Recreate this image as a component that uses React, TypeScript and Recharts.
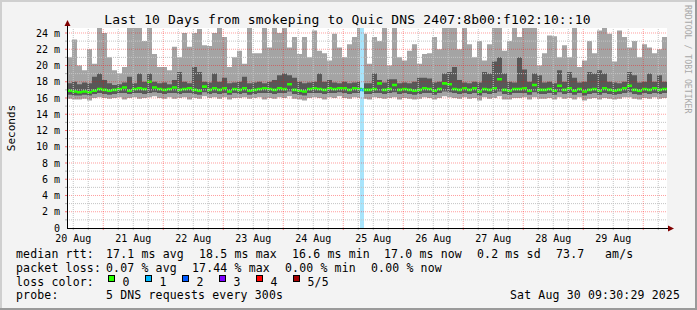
import React from 'react';
import { ComposedChart, Area, XAxis, YAxis, ReferenceLine, ReferenceArea, CartesianGrid } from 'recharts';

// ---- data (milliseconds), one bin = 2 hours, start = 20 Aug 09:30 ----
const binHours = 2;
const maxRtt = [
  21.0, 23.2, 20.0, 19.4, 22.0, 20.2, 24.6, 24.0, 21.0, 19.4,
  19.0, 19.8, 24.6, 24.6, 24.6, 23.0, 24.6, 21.4, 19.8, 19.8,
  19.4, 22.3, 21.0, 24.0, 22.3, 24.0, 24.5, 22.5, 22.4, 24.0,
  24.6, 23.5, 19.8, 21.0, 21.8, 20.2, 24.6, 21.5, 21.5, 24.6,
  22.2, 24.6, 24.0, 24.6, 22.2, 23.5, 21.4, 23.5, 21.0, 24.3,
  21.8, 21.5, 20.6, 23.9, 22.2, 21.0, 22.6, 23.5, 24.6, 23.9,
  20.2, 23.5, 23.0, 24.6, 20.0, 24.6, 21.0, 20.6, 21.8, 22.6,
  20.2, 21.4, 21.5, 23.5, 22.0, 24.6, 24.6, 24.6, 22.0, 24.6,
  22.6, 21.0, 23.0, 20.6, 22.6, 24.6, 24.6, 21.8, 23.0, 24.6,
  23.5, 24.6, 24.6, 24.6, 20.0, 21.5, 23.7, 23.6, 21.0, 22.5,
  21.0, 24.6, 19.8, 20.6, 23.0, 21.5, 24.3, 24.6, 23.9, 20.5,
  24.3, 23.5, 22.2, 23.0, 21.0, 22.6, 22.2, 21.5, 22.0, 23.5,
];
const upperRtt = [
  17.8, 18.0, 17.7, 17.9, 17.8, 18.6, 19.0, 18.2, 17.8, 17.6,
  17.7, 17.9, 18.6, 17.8, 19.0, 18.0, 19.0, 18.0, 17.8, 17.9,
  17.7, 18.2, 19.2, 18.0, 17.8, 19.8, 19.2, 18.0, 17.9, 19.0,
  18.0, 18.5, 17.8, 17.9, 18.0, 18.6, 17.8, 17.9, 18.0, 17.8,
  18.0, 18.2, 18.8, 19.0, 18.8, 18.5, 18.0, 17.8, 17.9, 18.0,
  19.0, 18.0, 18.2, 17.9, 17.8, 18.0, 17.8, 17.9, 18.0, 17.8,
  17.8, 19.0, 18.2, 17.9, 18.3, 18.3, 17.8, 17.9, 17.8, 18.0,
  18.5, 18.5, 18.4, 17.9, 18.0, 19.0, 19.2, 19.8, 18.2, 17.9,
  17.8, 18.0, 17.9, 19.2, 19.0, 20.5, 21.0, 19.0, 18.0, 17.9,
  21.0, 19.5, 18.0, 19.0, 18.8, 17.9, 18.0, 17.8, 19.4, 18.0,
  19.2, 18.5, 17.9, 18.0, 19.2, 19.0, 19.4, 19.0, 18.0, 17.9,
  17.8, 18.0, 19.2, 18.8, 17.9, 18.0, 19.0, 18.0, 18.8, 18.0,
];
const medianRtt = [
  16.9, 16.8, 16.7, 16.8, 16.7, 16.9, 17.1, 17.0, 16.9, 17.0,
  17.1, 17.3, 16.9, 17.1, 17.2, 17.1, 18.0, 17.3, 17.1, 17.0,
  17.1, 17.3, 17.0, 17.1, 17.2, 17.0, 16.9, 17.4, 17.0, 17.2,
  17.0, 17.2, 16.8, 17.1, 17.0, 17.2, 16.9, 17.0, 17.1, 17.2,
  17.1, 17.0, 17.2, 17.1, 17.7, 17.0, 16.9, 16.8, 17.1, 17.2,
  17.1, 17.0, 17.2, 17.1, 17.2, 17.2, 17.0, 17.2, 17.1, 17.0,
  17.0, 17.1, 17.8, 17.0, 17.1, 17.6, 17.0, 17.1, 17.0, 16.9,
  17.0, 17.2, 17.1, 16.9, 17.1, 17.8, 17.7, 17.1, 17.0, 17.2,
  17.0, 17.2, 16.8, 17.1, 17.0, 17.2, 18.3, 17.0, 16.9, 17.1,
  17.1, 17.2, 16.9, 17.6, 17.0, 17.0, 17.1, 16.9, 17.5, 17.0,
  17.2, 16.9, 17.1, 16.8, 17.0, 17.1, 16.9, 17.2, 17.0, 16.9,
  17.0, 17.2, 17.5, 17.0, 16.9, 17.1, 17.0, 17.2, 17.0, 17.1,
];
const lowerRtt = [
  16.4, 16.3, 16.3, 16.4, 16.3, 16.5, 16.6, 16.5, 16.4, 16.5,
  16.6, 16.6, 16.5, 16.6, 16.6, 16.5, 16.6, 16.7, 16.6, 16.5,
  16.6, 16.6, 16.5, 16.6, 16.6, 16.5, 16.4, 16.7, 16.5, 16.6,
  16.5, 16.6, 16.4, 16.6, 16.5, 16.6, 16.4, 16.5, 16.6, 16.6,
  16.6, 16.5, 16.6, 16.6, 16.8, 16.5, 16.4, 16.3, 16.6, 16.6,
  16.6, 16.5, 16.6, 16.6, 16.7, 16.6, 16.5, 16.6, 16.6, 16.5,
  16.5, 16.6, 16.6, 16.5, 16.6, 16.7, 16.5, 16.6, 16.5, 16.4,
  16.5, 16.6, 16.6, 16.4, 16.6, 16.8, 16.7, 16.6, 16.5, 16.6,
  16.5, 16.6, 16.3, 16.6, 16.5, 16.6, 16.8, 16.5, 16.4, 16.6,
  16.6, 16.6, 16.4, 16.7, 16.5, 16.5, 16.6, 16.4, 16.7, 16.5,
  16.6, 16.4, 16.6, 16.3, 16.5, 16.6, 16.4, 16.6, 16.5, 16.4,
  16.5, 16.6, 16.7, 16.5, 16.4, 16.6, 16.5, 16.6, 16.5, 16.6,
];
const minRtt = [
  15.9, 15.8, 15.8, 15.9, 15.7, 16.0, 16.1, 16.0, 15.9, 16.0,
  16.1, 15.8, 16.0, 16.1, 15.9, 16.0, 16.1, 16.2, 16.0, 15.9,
  16.1, 15.9, 16.0, 16.1, 15.8, 16.0, 15.9, 16.2, 16.0, 16.1,
  15.9, 16.1, 15.8, 16.0, 16.0, 16.1, 15.9, 16.0, 16.1, 15.8,
  16.0, 15.9, 16.1, 16.0, 16.2, 15.9, 15.8, 15.7, 16.0, 16.1,
  16.0, 15.8, 16.1, 16.0, 16.2, 16.0, 15.9, 16.1, 16.0, 15.9,
  15.8, 16.1, 16.0, 15.9, 16.0, 16.1, 15.8, 16.0, 15.9, 15.8,
  15.9, 16.1, 16.0, 15.8, 16.0, 16.2, 16.1, 16.0, 15.9, 16.1,
  15.9, 16.0, 15.7, 16.1, 15.9, 16.0, 16.2, 15.8, 15.8, 16.0,
  16.0, 16.1, 15.8, 16.1, 15.9, 15.9, 16.0, 15.8, 16.1, 15.9,
  16.0, 15.8, 16.1, 15.7, 15.9, 16.0, 15.8, 16.0, 15.9, 15.8,
  15.9, 16.1, 16.1, 15.9, 15.8, 16.0, 15.9, 16.1, 15.9, 16.0,
];
// loss event (hours from start)
const lossStart = 117.2;
const lossEnd = 118.8;
const lossMedian = 17.0;

// ---- axes ----
const totalHours = 240;
const dayLabels = ['20 Aug', '21 Aug', '22 Aug', '23 Aug', '24 Aug', '25 Aug', '26 Aug', '27 Aug', '28 Aug', '29 Aug'];
const dayLabelHours = [2.5, 26.5, 50.5, 74.5, 98.5, 122.5, 146.5, 170.5, 194.5, 218.5];
const midnightHours = [14.5, 38.5, 62.5, 86.5, 110.5, 134.5, 158.5, 182.5, 206.5, 230.5];
const sixHourHours = Array.from({ length: 40 }, (_, k) => 2.5 + 6 * k).filter((h) => !midnightHours.includes(h));
const yTicks = [0, 2, 4, 6, 8, 10, 12, 14, 16, 18, 20, 22, 24];
const yMinor = [1, 3, 5, 7, 9, 11, 13, 15, 17, 19, 21, 23];
const yTop = 24.615;
const tickLenH = 0.8; // 2px in hours
const tickLenV = 0.25; // 2px in ms

// ---- legend ----
const lossColors = ['#26ff00', '#00b8ff', '#0059ff', '#7e00ff', '#ff0000', '#a10000'];
const lossLabels = ['0', '1', '2', '3', '4', '5/5'];
const line1: [string, number][] = [
  ['median rtt:', 16], ['17.1 ms avg', 106], ['18.5 ms max', 199], ['16.6 ms min', 292],
  ['17.0 ms now', 384], ['0.2 ms sd', 477], ['73.7', 556], ['am/s', 605],
];
const line2: [string, number][] = [
  ['packet loss:', 16], ['0.07 % avg', 106], ['17.44 % max', 192], ['0.00 % min', 285], ['0.00 % now', 371],
];

const MED_HALF = 0.16; // half thickness of the median band (ms)
const W = 697, H = 310;
const PL = 67, PT = 28, PR = 667, PB = 228;
const MONO = '"DejaVu Sans Mono", monospace';

const rows = maxRtt.map((_, i) => ({
  t: i * binHours,
  band: [minRtt[i], maxRtt[i]],
  core: [lowerRtt[i], upperRtt[i]],
  med: [medianRtt[i] - MED_HALF, medianRtt[i] + MED_HALF],
}));
rows.push({ ...rows[rows.length - 1], t: maxRtt.length * binHours });

const minorStroke = '#c4c4c4';
const majorStroke = 'rgba(255,0,0,0.38)';
const minorTick = '#b0b0b0';
const majorTick = 'rgba(255,0,0,0.55)';

export default function App() {
  return (
    <div style={{ position: 'absolute', left: 0, top: 0, width: W, height: H, background: '#f3f3f3', overflow: 'hidden' }}>
      <ComposedChart width={W} height={H} data={rows} margin={{ top: PT, right: W - PR, bottom: 62, left: 0 }}>
        <CartesianGrid horizontal={false} vertical={false} fill="#ffffff" stroke="none" />
        <XAxis
          dataKey="t"
          type="number"
          domain={[0, totalHours]}
          ticks={dayLabelHours}
          tickFormatter={(v: number) => dayLabels[dayLabelHours.indexOf(v)] ?? ''}
          tickLine={false}
          axisLine={false}
          tickSize={0}
          tickMargin={6.5}
          height={20}
          interval={0}
          tick={{ fontFamily: MONO, fontSize: 10, fill: '#000' }}
        />
        <YAxis
          type="number"
          domain={[0, yTop]}
          allowDataOverflow
          ticks={yTicks}
          tickFormatter={(v: number) => (v === 0 ? '0' : `${v} m`)}
          tickLine={false}
          axisLine={false}
          tickSize={0}
          tickMargin={7}
          width={PL}
          interval={0}
          tick={{ fontFamily: MONO, fontSize: 10, fill: '#000' }}
        />
        <Area dataKey="band" type="stepAfter" fill="#a4a4a4" fillOpacity={1} stroke="none" isAnimationActive={false} dot={false} activeDot={false} />
        <Area dataKey="core" type="stepAfter" fill="#585858" fillOpacity={1} stroke="none" isAnimationActive={false} dot={false} activeDot={false} />
        <ReferenceArea x1={lossStart} x2={lossEnd} y1={0} y2={yTop} fill="#a8e4fb" fillOpacity={1} stroke="none" />
        <Area dataKey="med" type="stepAfter" fill="#26ff00" fillOpacity={1} stroke="none" isAnimationActive={false} dot={false} activeDot={false} />
        <ReferenceArea x1={lossStart} x2={lossEnd} y1={lossMedian - MED_HALF} y2={lossMedian + MED_HALF} fill="#00b8ff" fillOpacity={1} stroke="none" />
        {yMinor.map((v) => (
          <ReferenceLine key={'ym' + v} y={v} stroke={minorStroke} strokeDasharray="1 1" />
        ))}
        {yTicks.filter((v) => v > 0).map((v) => (
          <ReferenceLine key={'yM' + v} y={v} stroke={majorStroke} strokeDasharray="1 1" />
        ))}
        {sixHourHours.map((h) => (
          <ReferenceLine key={'xm' + h} x={h} stroke={minorStroke} strokeDasharray="1 1" />
        ))}
        {midnightHours.map((h) => (
          <ReferenceLine key={'xM' + h} x={h} stroke={majorStroke} strokeDasharray="1 1" />
        ))}
        {/* small tick marks outside the plot */}
        {sixHourHours.map((h) => (
          <ReferenceLine key={'xmt' + h} ifOverflow="visible" segment={[{ x: h, y: 0 }, { x: h, y: -tickLenV }]} stroke={minorTick} />
        ))}
        {midnightHours.map((h) => (
          <ReferenceLine key={'xMt' + h} ifOverflow="visible" segment={[{ x: h, y: 0 }, { x: h, y: -tickLenV }]} stroke={majorTick} />
        ))}
        {yMinor.map((v) => (
          <ReferenceLine key={'ymt' + v} ifOverflow="visible" segment={[{ x: -tickLenH, y: v }, { x: 0, y: v }]} stroke={minorTick} />
        ))}
        {yTicks.filter((v) => v > 0).map((v) => (
          <ReferenceLine key={'yMt' + v} ifOverflow="visible" segment={[{ x: -tickLenH, y: v }, { x: 0, y: v }]} stroke={majorTick} />
        ))}
      </ComposedChart>
      <svg width={W} height={H} style={{ position: 'absolute', left: 0, top: 0, pointerEvents: 'none' }}>
        {/* frame */}
        <rect x={0} y={0} width={W} height={2} fill="#cfcfcf" />
        <rect x={0} y={0} width={2} height={H} fill="#cfcfcf" />
        <rect x={W - 2} y={0} width={2} height={H} fill="#9a9a9a" />
        <rect x={0} y={H - 2} width={W} height={2} fill="#9a9a9a" />
        {/* axes */}
        <line x1={PL + 0.5} y1={PB + 1} x2={PL + 0.5} y2={PT - 6} stroke="#000" strokeWidth={1} />
        <polygon points={`${PL - 2.5},${PT - 2} ${PL + 3.5},${PT - 2} ${PL + 0.5},${PT - 8}`} fill="#800000" />
        <line x1={PL} y1={PB + 0.5} x2={PR + 2} y2={PB + 0.5} stroke="#000" strokeWidth={1} />
        <polygon points={`${PR + 1},${PB - 2.5} ${PR + 1},${PB + 3.5} ${PR + 7},${PB + 0.5}`} fill="#800000" />
        {/* title */}
        <text x={347.5} y={24} textAnchor="middle" fontFamily={MONO} fontSize={13} letterSpacing={0.15} fill="#000">
          Last 10 Days from smokeping to Quic DNS 2407:8b00:f102:10::10
        </text>
        {/* y label */}
        <text x={14.5} y={128} textAnchor="middle" fontFamily={MONO} fontSize={11} fill="#000" transform="rotate(-90 14.5 128)">
          Seconds
        </text>
        {/* watermark */}
        <text x={685} y={5} fontFamily={MONO} fontSize={8.2} fill="#a8a8a8" transform="rotate(90 685 5)">
          RRDTOOL / TOBI OETIKER
        </text>
        {/* legend */}
        <g fontFamily={MONO} fontSize={11.5} letterSpacing={0.16} fill="#000">
          {line1.map(([s, x]) => (
            <text key={'l1' + s} x={x} y={258}>{s}</text>
          ))}
          {line2.map(([s, x]) => (
            <text key={'l2' + s} x={x} y={272}>{s}</text>
          ))}
          <text x={16} y={285.5}>loss color:</text>
          {lossColors.map((c, i) => (
            <g key={'lc' + i}>
              <rect x={108.5 + i * 37} y={275.5} width={6} height={6} fill={c} stroke="#000" strokeWidth={1} />
              <text x={122.5 + i * 37} y={285.5}>{lossLabels[i]}</text>
            </g>
          ))}
          <text x={16} y={299}>probe:</text>
          <text x={106} y={299}>5 DNS requests every 300s</text>
          <text x={680} y={299} textAnchor="end">Sat Aug 30 09:30:29 2025</text>
        </g>
      </svg>
    </div>
  );
}
